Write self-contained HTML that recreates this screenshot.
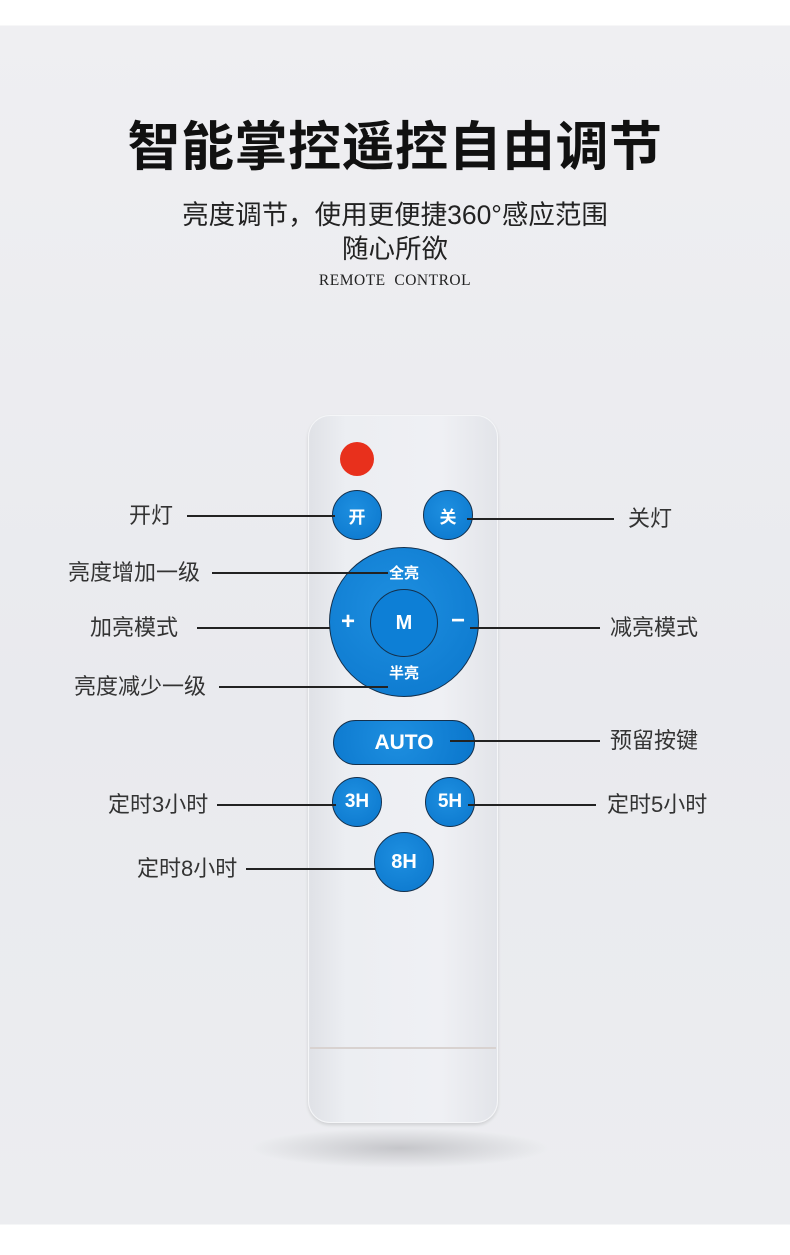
<!DOCTYPE html>
<html><head><meta charset="utf-8"><style>
*{margin:0;padding:0;box-sizing:border-box}
body{width:790px;height:1255px;position:relative;overflow:hidden;background:linear-gradient(#fff 0,#fff 25px,#efeff2 26px,#e9eaee 700px,#ecedf0 1224px,#fff 1225px);font-family:"Liberation Sans","Noto Sans CJK SC",sans-serif}
.a{position:absolute}
.t{position:absolute;font-size:22px;color:#333;line-height:26px;white-space:nowrap}
.l{position:absolute;height:1.5px;background:#222}
.b{position:absolute;border-radius:50%;background:radial-gradient(circle at 45% 40%,#1e8fe0,#0a76cc);border:1.5px solid #14304c;color:#fff;font-weight:bold;display:flex;align-items:center;justify-content:center}
</style></head><body>
<div class="a" style="left:0;top:108px;width:790px;text-align:center;font-size:53px;font-weight:bold;color:#111;letter-spacing:0.5px;line-height:70px;font-family:'Noto Sans CJK SC',sans-serif">智能掌控遥控自由调节</div>
<div class="a" style="left:0;top:198px;width:790px;text-align:center;font-size:26.5px;color:#222;line-height:34px">亮度调节，使用更便捷360°感应范围</div>
<div class="a" style="left:0;top:232px;width:790px;text-align:center;font-size:26.5px;color:#222;line-height:34px">随心所欲</div>
<div class="a" style="left:0;top:272px;width:790px;text-align:center;font-size:15.5px;color:#222;font-family:'Liberation Serif',serif;letter-spacing:0.5px">REMOTE&nbsp; CONTROL</div>
<div class="a" style="left:250px;top:1128px;width:300px;height:40px;border-radius:50%;background:radial-gradient(ellipse,rgba(150,150,155,.45),rgba(200,200,205,0) 70%)"></div>
<div class="a" style="left:308px;top:415px;width:190px;height:708px;border-radius:22px;background:linear-gradient(90deg,#dfe1e6,#eceef2 20%,#eff0f4 70%,#e2e4e9);box-shadow:0 2px 3px rgba(0,0,0,.12),inset 0 0 0 1px #f5f6f8"></div>
<div class="a" style="left:310px;top:1047px;width:186px;height:2px;background:#d8d2d0"></div>
<div class="a" style="left:340px;top:442px;width:34px;height:34px;border-radius:50%;background:#e8301c"></div>
<div class="b" style="left:332px;top:490px;width:50px;height:50px;font-size:17px">开</div>
<div class="b" style="left:423px;top:490px;width:50px;height:50px;font-size:17px">关</div>
<div class="b" style="left:329px;top:547px;width:150px;height:150px"></div>
<div class="a" style="left:329px;top:562px;width:150px;text-align:center;color:#fff;font-size:15px;font-weight:bold">全亮</div>
<div class="a" style="left:329px;top:662px;width:150px;text-align:center;color:#fff;font-size:15px;font-weight:bold">半亮</div>
<div class="a" style="left:341px;top:608px;color:#fff;font-size:24px;font-weight:bold">+</div>
<div class="a" style="left:451px;top:607px;color:#fff;font-size:24px;font-weight:bold">−</div>
<div class="b" style="left:370px;top:589px;width:68px;height:68px;font-size:20px;background:#0d7fd6">M</div>
<div class="b" style="left:333px;top:720px;width:142px;height:45px;border-radius:23px;font-size:21px">AUTO</div>
<div class="b" style="left:332px;top:777px;width:50px;height:50px;font-size:19px">3H</div>
<div class="b" style="left:425px;top:777px;width:50px;height:50px;font-size:19px">5H</div>
<div class="b" style="left:374px;top:832px;width:60px;height:60px;font-size:20px">8H</div>

<div class="t" style="left:129px;top:503px">开灯</div><div class="l" style="left:187px;top:515px;width:148px"></div>
<div class="t" style="left:628px;top:506px">关灯</div><div class="l" style="left:467px;top:518px;width:147px"></div>
<div class="t" style="left:68px;top:560px">亮度增加一级</div><div class="l" style="left:212px;top:572px;width:176px"></div>
<div class="t" style="left:90px;top:615px">加亮模式</div><div class="l" style="left:197px;top:627px;width:133px"></div>
<div class="t" style="left:610px;top:615px">减亮模式</div><div class="l" style="left:470px;top:627px;width:130px"></div>
<div class="t" style="left:74px;top:674px">亮度减少一级</div><div class="l" style="left:219px;top:686px;width:169px"></div>
<div class="t" style="left:610px;top:728px">预留按键</div><div class="l" style="left:450px;top:740px;width:150px"></div>
<div class="t" style="left:108px;top:792px">定时3小时</div><div class="l" style="left:217px;top:804px;width:119px"></div>
<div class="t" style="left:607px;top:792px">定时5小时</div><div class="l" style="left:468px;top:804px;width:128px"></div>
<div class="t" style="left:137px;top:856px">定时8小时</div><div class="l" style="left:246px;top:868px;width:129px"></div>
</body></html>
